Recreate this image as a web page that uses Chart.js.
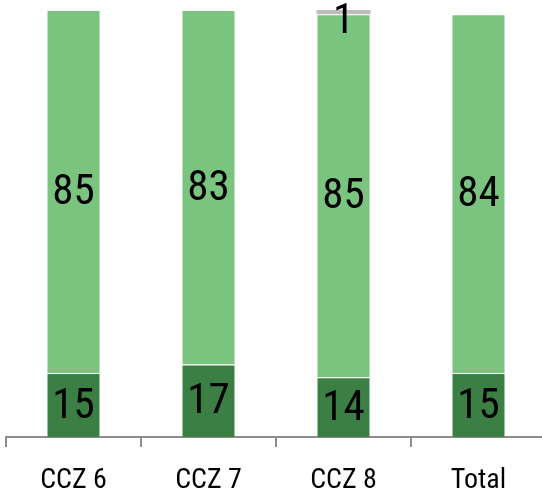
<!DOCTYPE html>
<html>
<head>
<meta charset="utf-8">
<script src="https://cdn.jsdelivr.net/npm/chart.js@4"></script>
<style>
  html, body { margin: 0; padding: 0; background: #fff; overflow: hidden; }
  #wrap { width: 560px; height: 492px; }
</style>
</head>
<body>
<div id="wrap"><canvas id="chart"></canvas></div>
<script>
const categories = ["CCZ 6", "CCZ 7", "CCZ 8", "Total"];
const darkValues = [15, 17, 14, 15];
const lightValues = [85, 83, 85, 84];
const greyValues = [0, 0, 1, 0];

const fontFamily = '"Liberation Sans Narrow", "Arial Narrow", "Roboto Condensed", "Liberation Sans", sans-serif';

// draws the value inside each segment, skips zeros
const valueLabels = {
    id: "valueLabels",
    afterDatasetsDraw(chart) {
        const c = chart.ctx;
        c.save();
        c.font = "43px " + fontFamily;
        c.fillStyle = "#000";
        c.textAlign = "center";
        c.textBaseline = "middle";
        chart.data.datasets.forEach((ds, i) => {
            const meta = chart.getDatasetMeta(i);
            meta.data.forEach((bar, j) => {
                const v = ds.data[j];
                if (!v) return;
                let y = (bar.y + bar.base) / 2 + 2;
                if (y < 22) y = 22;
                c.fillText(String(v), bar.x, y);
            });
        });
        c.restore();
    }
};

const ctx = document.getElementById("chart").getContext("2d");
new Chart(ctx, {
    type: "bar",
    data: {
        labels: categories,
        datasets: [
            { data: darkValues, backgroundColor: "#3b7f45", borderColor: "rgba(255,255,255,0.35)", borderWidth: 1 },
            { data: lightValues, backgroundColor: "#7bc47f", borderColor: "rgba(255,255,255,0.35)", borderWidth: 1 },
            { data: greyValues, backgroundColor: "#bdbdbd", borderWidth: 0 }
        ]
    },
    options: {
        responsive: true,
        maintainAspectRatio: false,
        animation: false,
        layout: { padding: { left: 6, right: 14, top: 10, bottom: 0 } },
        plugins: { legend: { display: false }, tooltip: { enabled: false } },
        datasets: { bar: { categoryPercentage: 1, barPercentage: 0.4 } },
        scales: {
            x: {
                stacked: true,
                grid: {
                    offset: true,
                    drawOnChartArea: false,
                    tickLength: 10,
                    lineWidth: 2,
                    color: "#8c8c8c"
                },
                border: { display: true, color: "#8c8c8c", width: 2 },
                ticks: {
                    color: "#000",
                    padding: 17,
                    font: { size: 28, family: fontFamily }
                },
                afterFit(scale) { scale.height = 55; }
            },
            y: {
                stacked: true,
                display: false,
                min: 0,
                max: 100
            }
        }
    },
    plugins: [valueLabels]
});
</script>
</body>
</html>
